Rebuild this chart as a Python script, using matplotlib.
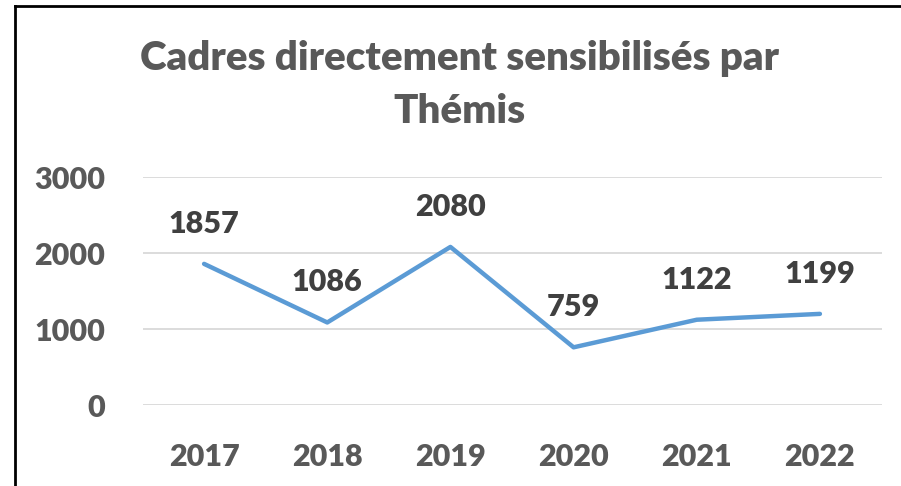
import matplotlib
matplotlib.use("Agg")
import matplotlib.pyplot as plt
from matplotlib.lines import Line2D

# data
years = ["2017", "2018", "2019", "2020", "2021", "2022"]
cadres = [1857, 1086, 2080, 759, 1122, 1199]
y_ticks = [0, 1000, 2000, 3000]

plt.rcParams['font.family'] = ['Lato', 'DejaVu Sans']
WT = 'heavy'

W, H = 901, 486
fig = plt.figure(figsize=(W / 100, H / 100), dpi=100)
ax = fig.add_axes([142.5 / W, 1 - 405 / H, 739 / W, 228 / H])

x = list(range(len(years)))
ax.plot(x, cadres, color='#5B9BD5', linewidth=3.2, solid_capstyle='round', zorder=3)

for xi, v in zip(x, cadres):
    ax.annotate(str(v), (xi, v), xytext=(0, 26), textcoords='offset pixels',
                ha='center', va='bottom', fontsize=22, fontweight=WT, color='#404040')

ax.set_xlim(-0.5, len(years) - 0.5)
ax.set_ylim(0, 3000)
ax.set_yticks(y_ticks)
ax.set_xticks(x)
ax.set_xticklabels(years)
ax.grid(axis='y', color='#D9D9D9', linewidth=1.3)
ax.set_axisbelow(True)
for s in ax.spines.values():
    s.set_visible(False)
ax.tick_params(length=0, labelsize=22, labelcolor='#595959')
for lab in ax.get_xticklabels() + ax.get_yticklabels():
    lab.set_fontweight(WT)
ax.tick_params(axis='x', pad=27)
ax.tick_params(axis='y', pad=27)

fig.text(459 / W, 1 - 85 / H, "Cadres directement sensibilisés par\nThémis", ha='center', va='center',
         fontsize=29, fontweight=WT, color='#595959', linespacing=1.55)

# frame of the chart area (left and top edges visible)
fig.add_artist(Line2D([15 / W, 15 / W], [0, 1 - 6 / H], transform=fig.transFigure, color='black', linewidth=2))
fig.add_artist(Line2D([15 / W, 1], [1 - 6 / H, 1 - 6 / H], transform=fig.transFigure, color='black', linewidth=2))

fig.savefig("out.png", dpi=100)
